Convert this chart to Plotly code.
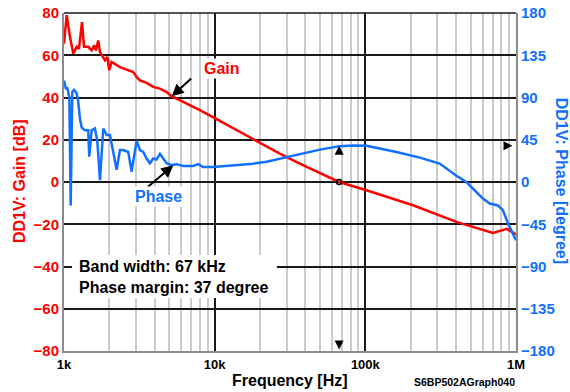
import math
import plotly.graph_objects as go

# ---------------- data ----------------
freq_gain = [1000, 1042, 1096, 1152, 1214, 1257, 1317, 1357, 1449, 1526, 1588, 1630,
             1688, 1733, 1870, 1938, 1997, 2071, 2351, 2670, 2880, 3034, 3192, 3535,
             3910, 4331, 4797, 5178, 5878, 7978, 10140, 27060, 36730, 67000, 101700,
             207200, 401900, 702800, 870000, 1000000]
gain_db = [65.5, 79, 68.6, 60.8, 64, 63, 75.7, 64, 64, 62.3, 64.7, 62.3,
           67, 61.5, 57.6, 59.2, 52.9, 56.8, 54.4, 52.9, 52, 49.7, 48.1, 46.9,
           45, 44.2, 42.6, 40.6, 38.7, 34, 30, 13.4, 8.7, 0, -3.9,
           -11, -18.9, -24.1, -22.2, -24.8]

freq_phase = [1000, 1030, 1050, 1085, 1108, 1135, 1165, 1210, 1240, 1260, 1277, 1311,
              1378, 1449, 1471, 1526, 1605, 1663, 1733, 1822, 1920, 2018, 2103, 2236,
              2351, 2473, 2670, 2811, 3034, 3192, 3357, 3535, 3718, 3910, 4118, 4331,
              4555, 4797, 5178, 5588, 6181, 7202, 7773, 8390, 9774, 13268, 18000, 22090,
              27060, 36730, 50000, 67000, 85000, 101700, 160800, 230000, 311400, 400000,
              468300, 603300, 668300, 758600, 818700, 883700, 978900, 1000000]
phase_deg = [108, 99, 101, 90, -25, 96, 98, 95, 87, 76, 67, 58,
             55, 55, 27, 55, 57, 44, 2, 57, 50, 50, 34, 13,
             34, 34, 32, 11, 44, 34, 32, 25, 20, 25, 24, 30,
             25, 20, 18, 19, 17, 17, 19, 16, 16, 17.5, 19.5, 21.5,
             24.9, 30, 34.5, 38, 39, 38.5, 32, 26, 19.6, 7,
             0, -17.7, -23, -25, -30, -44, -60, -62]

x_tick_vals = [1000, 10000, 100000, 1000000]
x_tick_text = ["1k", "10k", "100k", "1M"]
x_minor_vals = [m * d for d in (1000, 10000, 100000) for m in range(2, 10)]
gain_ticks = [-80, -60, -40, -20, 0, 20, 40, 60, 80]
phase_ticks = [-180, -135, -90, -45, 0, 45, 90, 135, 180]

bandwidth_hz = 67000
phase_margin_line = 38.5

RED = "#ff0000"
BLUE = "#1170ff"
FONT = "Liberation Sans, Arial, sans-serif"

fig = go.Figure()
fig.add_trace(go.Scatter(x=freq_gain, y=gain_db, mode="lines",
                         line=dict(color=RED, width=2.5), yaxis="y", showlegend=False))
fig.add_trace(go.Scatter(x=freq_phase, y=phase_deg, mode="lines",
                         line=dict(color=BLUE, width=2.5), yaxis="y2", showlegend=False))
# crossover marker
fig.add_trace(go.Scatter(x=[bandwidth_hz], y=[0], mode="markers",
                         marker=dict(symbol="circle-open", size=5, color="black",
                                     line=dict(width=1.5)),
                         yaxis="y", showlegend=False))

bw_log = math.log10(bandwidth_hz)

fig.update_layout(
    width=570, height=392,
    margin=dict(l=64, r=54, t=13, b=41, autoexpand=False),
    paper_bgcolor="white", plot_bgcolor="white",
    font=dict(family=FONT),
    xaxis=dict(type="log", range=[3, 6], tickmode="array", tickvals=x_tick_vals,
               ticktext=x_tick_text, ticks="", showgrid=True, gridcolor="#1a1a1a",
               gridwidth=1.5, showline=True, linecolor="#8c8c8c", linewidth=2,
               automargin=False,
               tickfont=dict(size=13, color="black", weight="bold", family=FONT),
               minor=dict(tickmode="array", tickvals=x_minor_vals, showgrid=True,
                          gridcolor="#cccccc", gridwidth=2, ticks=""),
               zeroline=False),
    yaxis=dict(range=[-80, 80], tickmode="array", tickvals=gain_ticks, ticks="",
               showgrid=True, gridcolor="#1a1a1a", gridwidth=1.5, zeroline=False,
               showline=True, linecolor="#8c8c8c", linewidth=2, automargin=False,
               tickfont=dict(size=15, color=RED, weight="bold", family=FONT)),
    yaxis2=dict(range=[-180, 180], tickmode="array", tickvals=phase_ticks, ticks="",
                overlaying="y", side="right", showgrid=False, zeroline=False,
                showline=True, linecolor="#8c8c8c", linewidth=2, automargin=False,
                tickfont=dict(size=15, color=BLUE, weight="bold", family=FONT)),
)

# top border
fig.add_shape(type="line", xref="paper", yref="paper", x0=0, x1=1, y0=1, y1=1,
              line=dict(color="#1a1a1a", width=1.5))
# white box for info text
fig.add_shape(type="rect", xref="paper", yref="paper", x0=0.0177, x1=0.471,
              y0=0.157, y1=0.284, fillcolor="white", line=dict(width=0), layer="above")
# dotted guide lines
fig.add_shape(type="line", xref="x", yref="y2", x0=bw_log, x1=bw_log,
              y0=-177, y1=phase_margin_line - 3,
              line=dict(color="black", width=1, dash="dot"), layer="above")
fig.add_shape(type="line", xref="x", yref="y2", x0=bw_log, x1=5.975,
              y0=phase_margin_line, y1=phase_margin_line,
              line=dict(color="black", width=1, dash="dot"), layer="above")

anns = []
# arrows for Gain / Phase labels
anns.append(dict(x=3.7147, y=40.6, xref="x", yref="y", text="", showarrow=True,
                 ax=21, ay=-19, arrowhead=2, arrowsize=1.2, arrowwidth=2,
                 arrowcolor="black", standoff=0))
anns.append(dict(x=3.7253, y=7.9, xref="x", yref="y", text="", showarrow=True,
                 ax=-27, ay=23, arrowhead=2, arrowsize=1.2, arrowwidth=2,
                 arrowcolor="black", standoff=0))
anns.append(dict(x=4.0484, y=53.8, xref="x", yref="y", text="Gain", showarrow=False,
                 font=dict(size=16, color=RED, weight="bold", family=FONT),
                 bgcolor="white", borderpad=1))
anns.append(dict(x=3.627, y=-7.0, xref="x", yref="y", text="Phase", showarrow=False,
                 font=dict(size=16, color=BLUE, weight="bold", family=FONT),
                 bgcolor="white", borderpad=1))
# arrowheads on dotted lines
anns.append(dict(x=bw_log, y=phase_margin_line, xref="x", yref="y2", text="",
                 showarrow=True, ax=0, ay=8, arrowhead=2, arrowsize=1.8,
                 arrowwidth=1, arrowcolor="black", standoff=0))
anns.append(dict(x=bw_log, y=-178.5, xref="x", yref="y2", text="",
                 showarrow=True, ax=0, ay=-8, arrowhead=2, arrowsize=1.8,
                 arrowwidth=1, arrowcolor="black", standoff=0))
anns.append(dict(x=5.977, y=phase_margin_line, xref="x", yref="y2", text="",
                 showarrow=True, ax=-8, ay=0, arrowhead=2, arrowsize=1.8,
                 arrowwidth=1, arrowcolor="black", standoff=0))
# info text
anns.append(dict(xref="paper", yref="paper", x=0.0288, y=0.219, xanchor="left",
                 yanchor="middle", align="left", showarrow=False,
                 text="Band width: 67 kHz<br>Phase margin: 37 degree",
                 font=dict(size=16, color="black", weight="bold", family=FONT)))
# axis titles
anns.append(dict(xref="paper", yref="paper", x=0.5, y=-0.0858, text="Frequency [Hz]",
                 showarrow=False, xanchor="center", yanchor="middle",
                 font=dict(size=16, color="black", weight="bold", family=FONT)))
anns.append(dict(xref="paper", yref="paper", x=1.002, y=-0.0917, text="S6BP502AGraph040",
                 showarrow=False, xanchor="right", yanchor="middle",
                 font=dict(size=10.5, color="black", weight="bold", family=FONT)))
anns.append(dict(xref="paper", yref="paper", x=-0.0973, y=0.503, text="DD1V: Gain [dB]",
                 showarrow=False, xanchor="center", yanchor="middle", textangle=-90,
                 font=dict(size=16, color=RED, weight="bold", family=FONT)))
anns.append(dict(xref="paper", yref="paper", x=1.1, y=0.503,
                 text="DD1V: Phase [degree]",
                 showarrow=False, xanchor="center", yanchor="middle", textangle=90,
                 font=dict(size=16, color=BLUE, weight="bold", family=FONT)))
fig.update_layout(annotations=anns)

fig.write_html("out.html", config={"displayModeBar": False},
               post_script="document.body.style.margin='0';document.body.style.overflow='hidden';")
